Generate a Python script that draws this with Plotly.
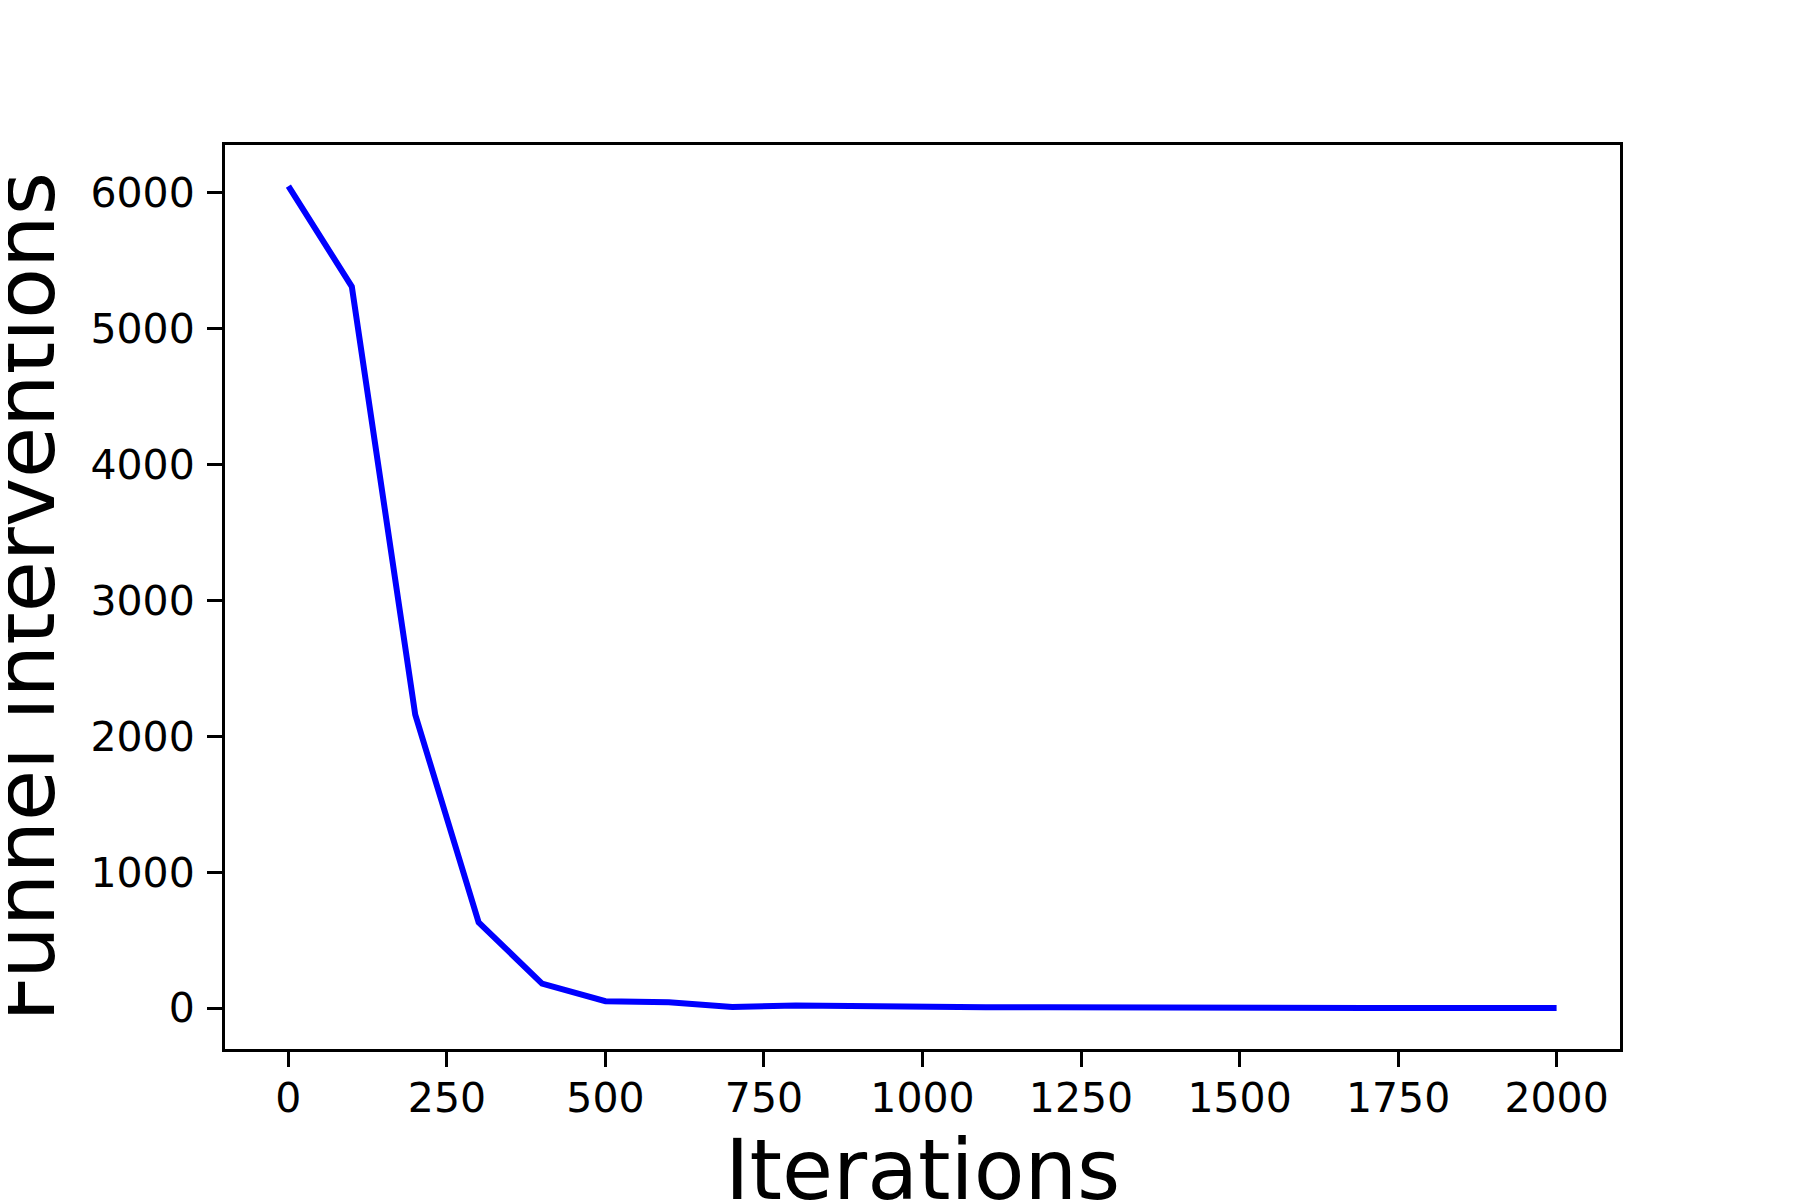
import plotly.graph_objects as go

# ---- data ----
iterations = list(range(0, 2001, 100))
interventions = [6050, 5310, 2160, 630, 180, 50, 42, 8, 18, 12, 7,
                 5, 6, 3, 2, 2, 3, 1, 1, 1, 1]
x_title = "Iterations"
y_title = "Funnel interventions"

# page has an 8px body margin, so the figure is 8px smaller than the window
W, H = 1792, 1192
L, R, T, B = 217, 180, 137, 151
FONT = "DejaVu Sans"

# matplotlib-style 5% margins
ylo, yhi = min(interventions), max(interventions)
ypad = 0.05 * (yhi - ylo)
xlo, xhi = min(iterations), max(iterations)
xpad = 0.05 * (xhi - xlo)

fig = go.Figure()
fig.add_trace(go.Scatter(
    x=iterations,
    y=interventions,
    mode="lines",
    line=dict(color="#0000ff", width=6),
    showlegend=False,
))

axis_common = dict(
    showline=True, linecolor="black", linewidth=3, mirror=True,
    showgrid=False, zeroline=False,
    ticks="outside", ticklen=15, tickwidth=3, tickcolor="black",
    tickfont=dict(family=FONT, size=41, color="black"),
)
fig.update_xaxes(range=[xlo - xpad, xhi + xpad], tick0=0, dtick=250,
                 ticklabelstandoff=-4, **axis_common)
fig.update_yaxes(range=[ylo - ypad, yhi + ypad], tick0=0, dtick=1000,
                 ticklabelstandoff=4, **axis_common)

# axis titles as annotations so they sit (and get clipped) like the reference
fig.add_annotation(
    text=x_title, xref="paper", yref="paper", x=0.5, y=0,
    yshift=-71, xanchor="center", yanchor="top",
    showarrow=False, font=dict(family=FONT, size=83, color="black"),
)
fig.add_annotation(
    text=y_title, xref="paper", yref="paper", x=0, y=0.5,
    xshift=-200, xanchor="center", yanchor="middle", textangle=-90,
    showarrow=False, font=dict(family=FONT, size=83, color="black"),
)

fig.update_layout(
    width=W, height=H,
    margin=dict(l=L, r=R, t=T, b=B, pad=0),
    paper_bgcolor="white", plot_bgcolor="white",
    font=dict(family=FONT, color="black"),
)

fig.write_html("out.html")
